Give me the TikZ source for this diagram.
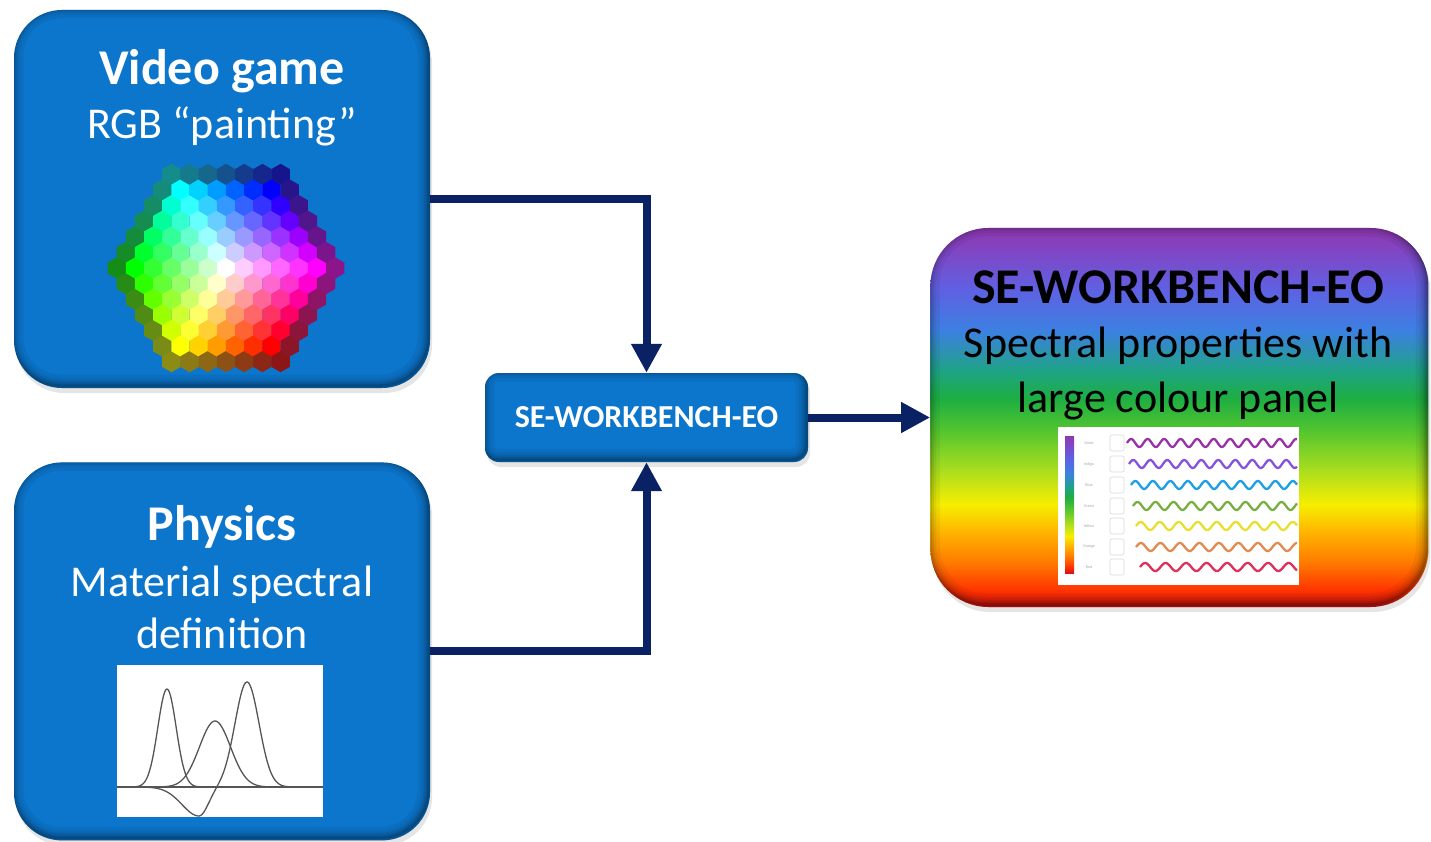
\documentclass[tikz,border=0pt]{standalone}
\usepackage{fontspec}
\setmainfont{Carlito}
\usetikzlibrary{positioning, arrows.meta}

\definecolor{boxblue}{RGB}{12,118,204}
\definecolor{linknavy}{RGB}{10,34,100}
\definecolor{plotgray}{RGB}{85,85,85}
% spectrum stops, bottom (red) to top (purple)
\definecolor{spA}{RGB}{214,18,20}
\definecolor{spB}{RGB}{255,52,0}
\definecolor{spC}{RGB}{255,124,0}
\definecolor{spD}{RGB}{255,182,0}
\definecolor{spE}{RGB}{246,238,0}
\definecolor{spF}{RGB}{170,222,30}
\definecolor{spG}{RGB}{80,196,48}
\definecolor{spH}{RGB}{30,174,66}
\definecolor{spI}{RGB}{30,164,130}
\definecolor{spJ}{RGB}{60,128,226}
\definecolor{spK}{RGB}{96,96,226}
\definecolor{spL}{RGB}{128,70,196}
\definecolor{spM}{RGB}{142,56,176}
% wave colours
\definecolor{wvViolet}{RGB}{154,48,168}
\definecolor{wvIndigo}{RGB}{132,84,224}
\definecolor{wvBlue}{RGB}{30,160,230}
\definecolor{wvGreen}{RGB}{120,176,64}
\definecolor{wvYellow}{RGB}{232,224,48}
\definecolor{wvOrange}{RGB}{226,138,80}
\definecolor{wvRed}{RGB}{224,48,90}

% only the middle half (25bp..75bp) is laid over the path
\pgfdeclareverticalshading{spectrum}{100bp}{%
  color(0bp)=(spA); color(25bp)=(spA); color(27.25bp)=(spB); color(31bp)=(spC);
  color(35bp)=(spD); color(38.5bp)=(spE); color(43bp)=(spF); color(48.5bp)=(spG);
  color(52.5bp)=(spH); color(56bp)=(spI); color(61.5bp)=(spJ); color(67bp)=(spK);
  color(72bp)=(spL); color(75bp)=(spM); color(100bp)=(spM)}

\tikzset{
  rim/.style={path picture={
      \foreach \bw/\bo in {22/0.05,15/0.06,10/0.08,6/0.1,2.5/0.14}
        \draw[black, opacity=\bo, line width=\bw pt, rounded corners=#1]
          ([shift={(-1.5pt,2.5pt)}]path picture bounding box.north west)
          rectangle ([shift={(-1.5pt,2.5pt)}]path picture bounding box.south east);}},
  softshadow/.style={preaction={fill=black, opacity=0.10, transform canvas={shift={(2pt,-5pt)}}}},
  block/.style={rectangle, rounded corners=#1, inner sep=0pt, softshadow, rim=#1},
  bluebox/.style={block=48pt, fill=boxblue, minimum width=416pt, minimum height=378pt},
  heading/.style={anchor=base, font=\fontsize{50}{55}\selectfont\bfseries, text=white},
  subline/.style={anchor=base, font=\fontsize{44}{50}\selectfont, text=white},
  tinylabel/.style={font=\fontsize{4}{5}\selectfont, text=gray!70, inner sep=0pt},
  link/.style={draw=linknavy, line width=8pt, -{Triangle[length=29pt, width=29pt]}},
  curve/.style={plotgray, line width=1.3pt}
}

\begin{document}
\begin{tikzpicture}[x=1pt, y=-1pt]
  \useasboundingbox (0,0) rectangle (1431,842);

  % the three blocks and the result
  \node[bluebox] (game) at (222,199) {};
  \node[bluebox, below=74pt of game] (physics) {};
  \node[block=14pt, fill=boxblue, minimum width=323pt, minimum height=89pt,
        text=white, font=\fontsize{32}{36}\selectfont\bfseries] (engine) at (646.5,417.5) {SE-WORKBENCH-EO};
  \node[block=58pt, shade, shading=spectrum, minimum width=498pt, minimum height=379pt,
        right=122pt of engine] (spectral) {};

  % texts
  \node[heading] (gametitle) at (222,85) {Video game};
  \node[subline] (gamesub) at (222,139) {RGB “painting”};
  \node[heading] (phystitle) at (222,540) {Physics};
  \node[subline] (physsub) at (222,596) {Material spectral};
  \node[subline] (physsubb) at (222,648) {definition};
  \node[heading, text=black] (spectitle) at (1178,303) {SE-WORKBENCH-EO};
  \node[subline, text=black] (specsub) at (1178,357) {Spectral properties with};
  \node[subline, text=black] (specsubb) at (1178,412) {large colour panel};

  % hexagonal colour picker
  \begin{scope}[shift={(226,268)}]
    \foreach \q in {-6,...,6}{
      \foreach \r in {-6,...,6}{
        \pgfmathtruncatemacro\qr{\q+\r}
        \pgfmathtruncatemacro\dist{max(abs(\q),abs(\r),abs(\qr))}
        \ifnum\dist<7
          \pgfmathsetmacro\hx{18.2*(\q+0.5*\r)}
          \pgfmathsetmacro\hy{15.6*\r}
          \ifnum\dist=0
            \def\hue{0}
          \else
            \pgfmathsetmacro\hue{mod(660-atan2(0-\hy,\hx),360)}
          \fi
          \ifnum\dist=6
            \def\sat{0.85}\def\bri{0.55}
          \else
            \pgfmathsetmacro\sat{\dist/5}\def\bri{1}
          \fi
          \definecolor{hexfill}{Hsb}{\hue,\sat,\bri}
          \fill[hexfill] (\hx,\hy) +(30:10.6) -- +(90:10.6) -- +(150:10.6)
            -- +(210:10.6) -- +(270:10.6) -- +(330:10.6) -- cycle;
        \fi
      }
    }
  \end{scope}

  % colour matching curves
  \fill[white] (117,665) rectangle (323,817);
  \draw[plotgray, line width=1.3pt] (117,787) -- (323,787);
  \draw[curve] plot[domain=125:212, samples=90] (\x, {787-98*exp(-(\x-167)*(\x-167)/169)});
  \draw[curve] plot[domain=150:285, samples=120] (\x, {787-66*exp(-(\x-215)*(\x-215)/484)});
  \draw[curve] plot[domain=140:305, samples=150]
    (\x, {787-105*exp(-(\x-247)*(\x-247)/289)+29*exp(-(\x-199)*(\x-199)/((\x<199) ? 576 : 169))});

  % wave panel
  \fill[white] (1058,427) rectangle (1299,585);
  \shade[shading=spectrum] (1065,436) rectangle (1074,573);
  \foreach \wc/\wy/\wx/\wl/\wn in {wvViolet/443/1127/16.5/Violet, wvIndigo/464/1129/17/Indigo,
      wvBlue/485/1131/17.5/Blue, wvGreen/506/1133/18/Green, wvYellow/526/1136/19/Yellow,
      wvOrange/547/1136/19.5/Orange, wvRed/567/1140/20.5/Red}{
    \node[tinylabel] (lbl\wn) at (1089,\wy) {\wn};
    \draw[gray!30, line width=0.6pt, rounded corners=2pt] (1110,\wy-8) rectangle (1124,\wy+8);
    \draw[\wc, line width=2.3pt] plot[domain=\wx:1297, samples=160]
      (\x, {\wy-4*sin((\x-\wx)/\wl*360)});
  }

  % connectors
  \draw[link] (game.east) -| (engine.north);
  \draw[link] (physics.east) -| (engine.south);
  \draw[link] (engine) -- (spectral);
\end{tikzpicture}
\end{document}
